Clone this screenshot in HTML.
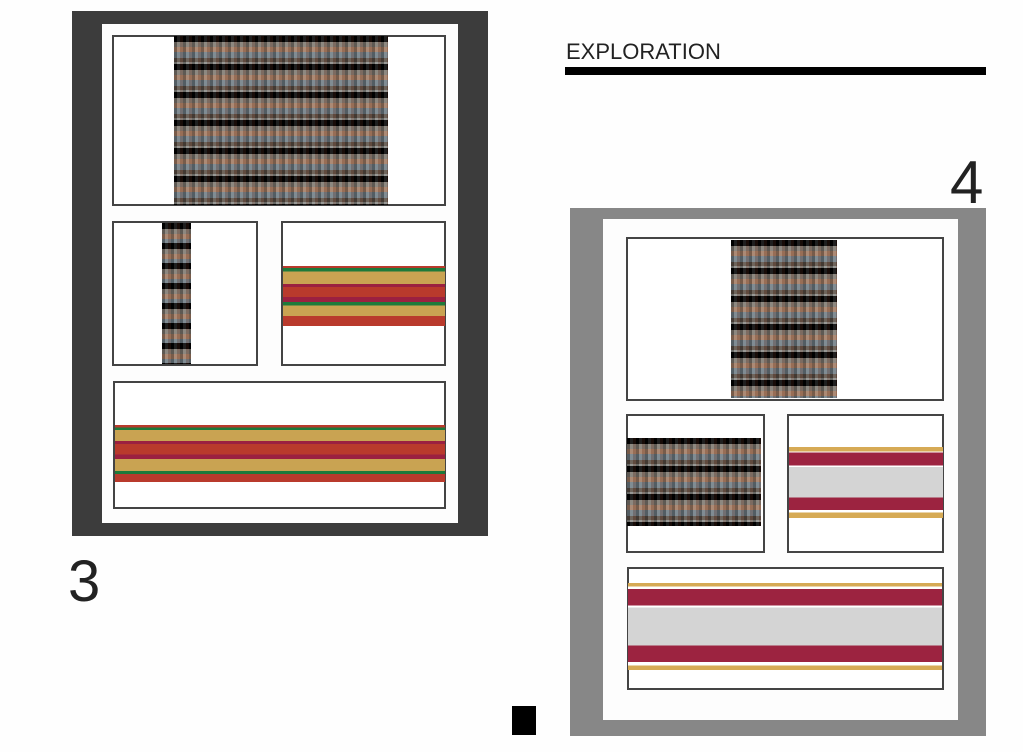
<!DOCTYPE html>
<html><head><meta charset="utf-8"><style>
body{margin:0;width:1023px;height:752px;background:#fefefe;position:relative;overflow:hidden;font-family:"Liberation Sans",sans-serif}
div{position:absolute;box-sizing:border-box}
.box{border:2px solid #444;background:#fff}
.rock{background:
repeating-linear-gradient(90deg,rgba(0,0,0,.25) 0 3px,rgba(255,255,255,.12) 3px 6px,rgba(120,60,40,.2) 6px 9px),
repeating-linear-gradient(180deg,#000 0 6px,#7d776f 6px 11px,#a07a62 11px 16px,#6f7c84 16px 22px,#5a4e44 22px 26px,#8a8a86 26px 28px);}
</style></head><body>
<!-- left -->
<div style="left:72px;top:11px;width:416px;height:525px;background:#3c3c3c"></div>
<div style="left:102px;top:24px;width:356px;height:499px;background:#fdfdfd"></div>
<div class="box" style="left:112px;top:35px;width:334px;height:171px"></div>
<div class="rock" style="left:174px;top:36px;width:214px;height:169px"></div>
<div class="box" style="left:112px;top:221px;width:146px;height:145px"></div>
<div class="rock" style="left:162px;top:223px;width:29px;height:141px;background-size:auto,auto 20px"></div>
<div class="box" style="left:281px;top:221px;width:165px;height:145px"></div>
<div style="left:283px;top:266px;width:162px;height:60px;background:linear-gradient(#b93a2c 0 3%,#1d7a3a 3% 9%,#c9a352 9% 30%,#9b2040 30% 35%,#b93a2c 35% 52%,#9b2040 52% 60%,#1d7a3a 60% 66%,#c9a352 66% 83%,#b93a2c 83%)"></div>
<div class="box" style="left:113px;top:381px;width:333px;height:128px"></div>
<div style="left:115px;top:425px;width:330px;height:57px;background:linear-gradient(#b93a2c 0 4%,#1d7a3a 4% 9%,#c9a352 9% 28%,#9b2040 28% 33%,#b93a2c 33% 52%,#9b2040 52% 60%,#c9a352 60% 81%,#1d7a3a 81% 86%,#b93a2c 86%)"></div>
<div style="left:68px;top:553px;font-size:58px;line-height:1;color:#222">3</div>
<!-- right -->
<div style="left:566px;top:40px;font-size:22px;line-height:1.1;color:#222">EXPLORATION</div>
<div style="left:565px;top:67px;width:421px;height:8px;background:#000"></div>
<div style="left:950px;top:153px;font-size:60px;line-height:1;color:#222">4</div>
<div style="left:570px;top:208px;width:416px;height:528px;background:#878787"></div>
<div style="left:603px;top:219px;width:355px;height:501px;background:#fdfdfd"></div>
<div class="box" style="left:626px;top:237px;width:318px;height:164px"></div>
<div class="rock" style="left:731px;top:240px;width:106px;height:158px"></div>
<div class="box" style="left:626px;top:414px;width:139px;height:139px"></div>
<div class="rock" style="left:627px;top:438px;width:134px;height:88px"></div>
<div class="box" style="left:787px;top:414px;width:157px;height:139px"></div>
<div style="left:789px;top:447px;width:154px;height:71px;background:linear-gradient(#d6aa55 0 6%,#fff 6% 8%,#9c2340 8% 26%,#fff 26% 28%,#d4d4d4 28% 71%,#9c2340 71% 89%,#fff 89% 92%,#d6aa55 92%)"></div>
<div class="box" style="left:627px;top:567px;width:317px;height:123px"></div>
<div style="left:628px;top:583px;width:314px;height:87px;background:linear-gradient(#d6aa55 0 4%,#fff 4% 7%,#9c2340 7% 26%,#fff 26% 28%,#d4d4d4 28% 72%,#9c2340 72% 91%,#fff 91% 95%,#d6aa55 95%)"></div>
<div style="left:512px;top:706px;width:24px;height:29px;background:#000"></div>
</body></html>
